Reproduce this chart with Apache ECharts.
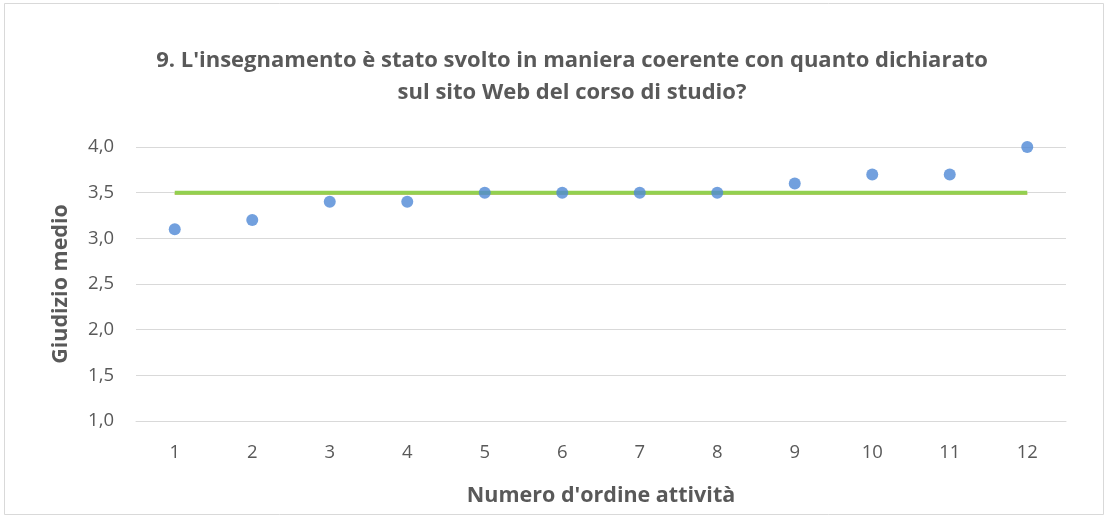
<!DOCTYPE html>
<html>
<head>
<meta charset="utf-8">
<script src="https://cdn.jsdelivr.net/npm/echarts@6/dist/echarts.min.js"></script>
<style>
  html, body { margin: 0; padding: 0; background: #fff; }
  #main { width: 1106px; height: 516px; }
</style>
</head>
<body>
<div id="main"></div>
<script>
// dati
var categorie = ['1', '2', '3', '4', '5', '6', '7', '8', '9', '10', '11', '12'];
var giudizi = [3.1, 3.2, 3.4, 3.4, 3.5, 3.5, 3.5, 3.5, 3.6, 3.7, 3.7, 4.0];
var mediaVerde = [3.5, 3.5, 3.5, 3.5, 3.5, 3.5, 3.5, 3.5, 3.5, 3.5, 3.5, 3.5];
var mediaArancio = [3.488, 3.488, 3.488, 3.488, 3.488, 3.488, 3.488, 3.488, 3.488, 3.488, 3.488, 3.488];
var tickY = ['1,0', '1,5', '2,0', '2,5', '3,0', '3,5', '4,0'];

var font = '"Open Sans", "Liberation Sans", sans-serif';
var grigio = '#595959';

var myChart = echarts.init(document.getElementById('main'));
var option = {
    animation: false,
    backgroundColor: '#fff',
    title: {
        text: "9. L'insegnamento è stato svolto in maniera coerente con quanto dichiarato\nsul sito Web del corso di studio?",
        left: 567,
        top: 40,
        textAlign: 'center',
        textStyle: {
            fontFamily: font,
            fontSize: 22,
            fontWeight: 'bold',
            color: grigio,
            lineHeight: 32,
            align: 'center'
        }
    },
    graphic: [{
        type: 'rect',
        shape: { x: 4.5, y: 3.5, width: 1099, height: 511 },
        style: { fill: 'none', stroke: '#d9d9d9', lineWidth: 1 },
        silent: true
    }],
    grid: {
        left: 136,
        right: 40,
        top: 147,
        bottom: 95
    },
    xAxis: {
        type: 'category',
        data: categorie,
        boundaryGap: true,
        name: "Numero d'ordine attività",
        nameLocation: 'middle',
        nameGap: 64,
        nameTextStyle: {
            fontFamily: font, fontSize: 21.5, fontWeight: 'bold', color: grigio
        },
        axisLine: { show: true, lineStyle: { color: '#d9d9d9', width: 1 } },
        axisTick: { show: false },
        axisLabel: {
            fontFamily: font, fontSize: 18.5, color: grigio, margin: 22
        },
        splitLine: { show: false }
    },
    yAxis: {
        type: 'value',
        min: 1,
        max: 4,
        interval: 0.5,
        name: 'Giudizio medio',
        nameLocation: 'middle',
        nameGap: 64,
        nameTextStyle: {
            fontFamily: font, fontSize: 21.5, fontWeight: 'bold', color: grigio
        },
        axisLine: { show: false },
        axisTick: { show: false },
        axisLabel: {
            fontFamily: font, fontSize: 18.5, color: grigio, margin: 22,
            formatter: function (v) {
                return tickY[Math.round((v - 1) / 0.5)];
            }
        },
        splitLine: { lineStyle: { color: '#d9d9d9', width: 1 } }
    },
    series: [
        {
            name: 'media arancio',
            type: 'line',
            data: mediaArancio,
            symbol: 'none',
            lineStyle: { color: '#ED7D31', width: 1.5 },
            z: 2
        },
        {
            name: 'media verde',
            type: 'line',
            data: mediaVerde,
            symbol: 'none',
            lineStyle: { color: '#92D050', width: 4 },
            z: 3
        },
        {
            name: 'giudizio',
            type: 'scatter',
            data: giudizi,
            symbol: 'circle',
            symbolSize: 12,
            itemStyle: { color: '#4F88D6' },
            z: 4
        }
    ]
};
myChart.setOption(option);
</script>
</body>
</html>
